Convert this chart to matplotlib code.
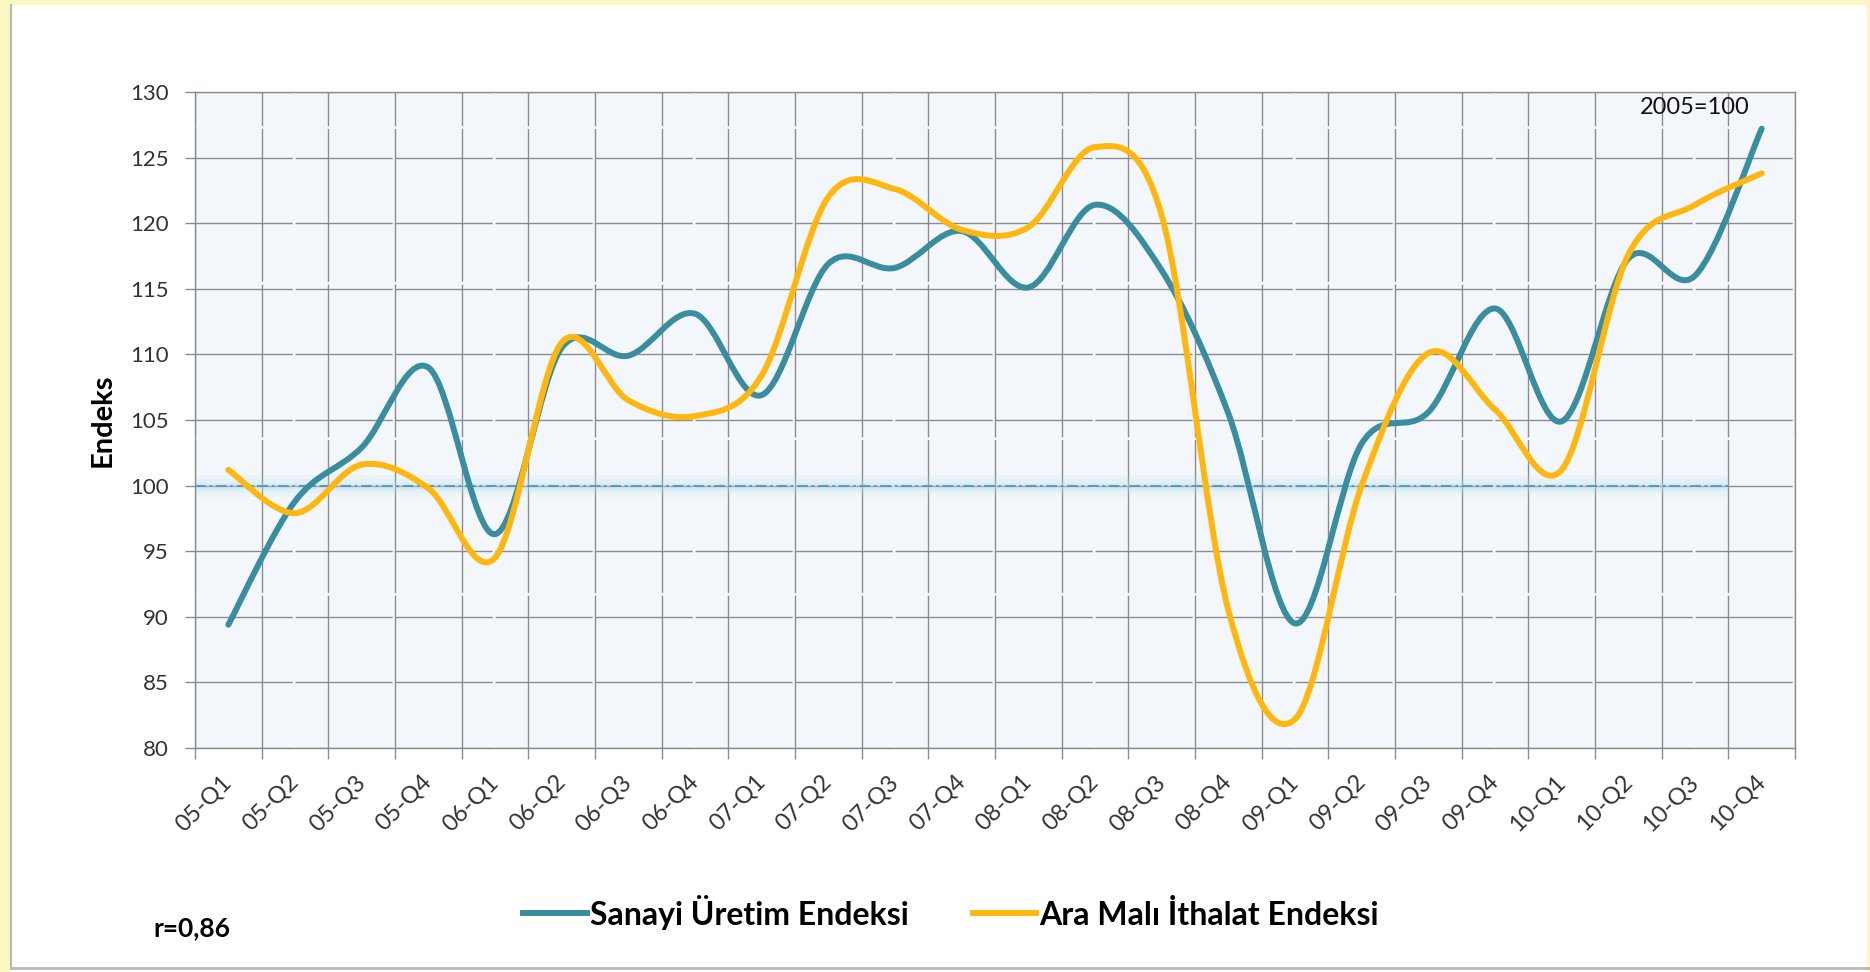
'''
Sanayi uretim endeksi ve ara mali ithalat endeksi (2005=100), ceyreklik
'''

import matplotlib
matplotlib.use('Agg')
import matplotlib.pyplot as plt
from matplotlib.path import Path
from matplotlib.patches import PathPatch, Rectangle
from matplotlib.lines import Line2D
import numpy as np

quarters = ['05-Q1', '05-Q2', '05-Q3', '05-Q4', '06-Q1', '06-Q2', '06-Q3', '06-Q4',
            '07-Q1', '07-Q2', '07-Q3', '07-Q4', '08-Q1', '08-Q2', '08-Q3', '08-Q4',
            '09-Q1', '09-Q2', '09-Q3', '09-Q4', '10-Q1', '10-Q2', '10-Q3', '10-Q4']

sanayi_uretim = [89.4, 98.8, 102.9, 109.0, 96.3, 110.5, 109.9, 113.1,
                 106.9, 116.9, 116.6, 119.4, 115.1, 121.4, 116.4, 105.5,
                 89.5, 103.2, 105.6, 113.5, 104.9, 117.3, 116.0, 127.2]

ara_mali_ithalat = [101.2, 97.9, 101.6, 99.8, 94.5, 110.9, 106.5, 105.3,
                    108.4, 122.0, 122.6, 119.5, 119.7, 125.8, 120.6, 90.5,
                    82.2, 100.0, 110.1, 105.8, 101.2, 117.6, 121.4, 123.8]

y_ticks = [80, 85, 90, 95, 100, 105, 110, 115, 120, 125, 130]
base_year_value = 100

BLUE = '#3A8D9F'
ORANGE = '#FFB60F'
GRID = '#8C8C8C'


def smooth_path(xs, ys):
    '''Excel style smoothed line: cubic bezier through every point'''
    pts = np.column_stack([xs, ys]).astype(float)
    n = len(pts)
    verts = [pts[0]]
    codes = [Path.MOVETO]
    for i in range(n - 1):
        p_prev = pts[i - 1] if i > 0 else pts[i]
        p_next2 = pts[i + 2] if i + 2 < n else pts[i + 1]
        c1 = pts[i] + (pts[i + 1] - p_prev) / 6.0
        c2 = pts[i + 1] - (p_next2 - pts[i]) / 6.0
        verts += [c1, c2, pts[i + 1]]
        codes += [Path.CURVE4] * 3
    return Path(verts, codes)


def main():
    plt.rcParams['font.family'] = ['Lato', 'DejaVu Sans']

    fig = plt.figure(figsize=(18.7, 9.72), dpi=100)
    fig.patch.set_facecolor('white')

    # screenshot frame: yellow dotted band top/left, gray edges
    fig.add_artist(Rectangle((0, 1 - 5 / 972), 1, 5 / 972, transform=fig.transFigure,
                             facecolor='#FBF6C2', edgecolor='none'))
    fig.add_artist(Rectangle((0, 0), 10 / 1870, 1, transform=fig.transFigure,
                             facecolor='#FBF6C2', edgecolor='none'))
    fig.add_artist(Rectangle((1 - 3 / 1870, 0), 3 / 1870, 1, transform=fig.transFigure,
                             facecolor='#FBF6C2', edgecolor='none'))
    fig.add_artist(Line2D([11 / 1870, 11 / 1870], [4 / 972, 1 - 5 / 972],
                          transform=fig.transFigure, color='#B8B8B8', lw=1.5))
    fig.add_artist(Line2D([11 / 1870, 1], [4 / 972, 4 / 972],
                          transform=fig.transFigure, color='#B8B8B8', lw=2))

    ax = fig.add_axes([195 / 1870, 224 / 972, 1600 / 1870, 656 / 972])
    ax.set_facecolor('#F3F7FC')

    x = np.arange(len(quarters))
    ax.set_xlim(-0.5, len(quarters) - 0.5)
    ax.set_ylim(y_ticks[0], y_ticks[-1])

    # grid: vertical at category boundaries, horizontal every 5
    ax.set_yticks(y_ticks)
    ax.set_xticks(x)
    ax.set_xticks(np.arange(len(quarters) + 1) - 0.5, minor=True)
    ax.grid(True, which='major', axis='y', color=GRID, lw=1.0, dashes=(70, 2))
    ax.grid(True, which='minor', axis='x', color=GRID, lw=1.0, dashes=(110, 2))
    ax.set_axisbelow(True)
    for s in ax.spines.values():
        s.set_color(GRID)
        s.set_linewidth(1.0)

    ax.tick_params(axis='y', which='major', length=7, width=1.0, color=GRID,
                   pad=12, labelsize=16, labelcolor='#333333')
    ax.tick_params(axis='x', which='major', length=0, pad=22,
                   labelsize=17, labelcolor='#333333')
    ax.tick_params(axis='x', which='minor', length=8, width=1.0, color=GRID)
    ax.set_xticklabels(quarters, rotation=45, ha='right', va='center',
                       rotation_mode='anchor')

    # 2005=100 reference line with soft glow
    x_end = len(quarters) - 1.5
    for glow_lw, glow_alpha in [(16, 0.10), (10, 0.15), (5, 0.25)]:
        ax.hlines(base_year_value, -0.5, x_end, color='#B5DCEB',
                  lw=glow_lw, alpha=glow_alpha, zorder=2)
    ax.hlines(base_year_value, -0.5, x_end, color='#4A9BB0',
              lw=1.3, linestyles=(0, (6, 2, 1.5, 2)), zorder=2)

    ax.add_patch(PathPatch(smooth_path(x, sanayi_uretim), fill=False,
                           edgecolor=BLUE, lw=4.3, capstyle='round', zorder=3))
    ax.add_patch(PathPatch(smooth_path(x, ara_mali_ithalat), fill=False,
                           edgecolor=ORANGE, lw=4.3, capstyle='round', zorder=4))

    ax.set_ylabel('Endeks', fontsize=21, fontweight='bold', labelpad=10)

    ax.text(0.9375, 0.993, '2005=100', transform=ax.transAxes, ha='center',
            va='top', fontsize=17, color='#111111')

    handles = [Line2D([], [], color=BLUE, lw=4.3),
               Line2D([], [], color=ORANGE, lw=4.3)]
    fig.legend(handles, ['Sanayi Üretim Endeksi', 'Ara Malı İthalat Endeksi'],
               loc='center', bbox_to_anchor=(951 / 1870, 60 / 972), ncol=2,
               frameon=False, handlelength=2.0, handletextpad=0.1,
               columnspacing=2.0, prop={'size': 23, 'weight': 'bold'})

    fig.text(153 / 1870, 44 / 972, 'r=0,86', fontsize=19, fontweight='bold',
             ha='left', va='center')

    fig.savefig('out.png', dpi=100, facecolor=fig.get_facecolor())
    plt.close(fig)


if __name__ == '__main__':
    main()
